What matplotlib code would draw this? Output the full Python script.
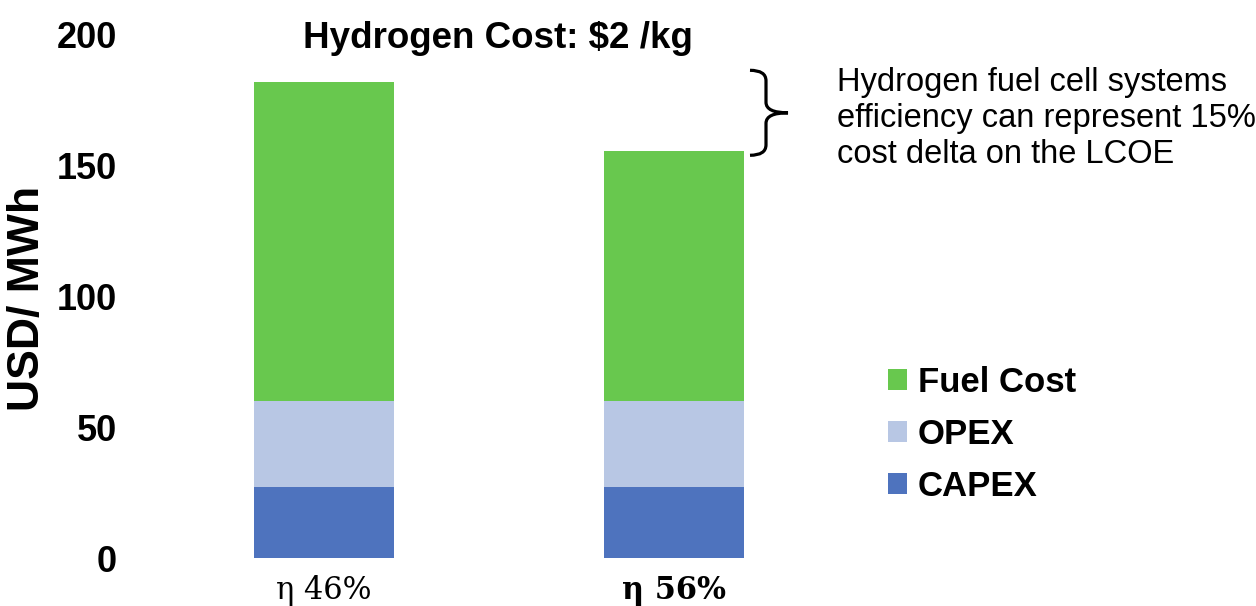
import matplotlib
matplotlib.use("Agg")
import matplotlib.pyplot as plt
import numpy as np
from matplotlib.path import Path
from matplotlib.patches import PathPatch

# values (USD / MWh)
cases = ["η 46%", "η 56%"]
capex = [27, 27]
opex = [33, 33]
fuel_cost = [122, 95.5]

series_names = ["CAPEX", "OPEX", "Fuel Cost"]
colors = ["#4E73BE", "#B8C7E4", "#68C84E"]

plt.rcParams["font.family"] = ["Liberation Sans", "DejaVu Sans"]

W, H = 1256, 606
fig = plt.figure(figsize=(W / 100, H / 100), dpi=100)

# axes placed so that y=0 sits at 558 px and y=200 at 35 px
ax = fig.add_axes([125 / W, (H - 558) / H, (1250 - 125) / W, (558 - 35) / H])

x = np.arange(len(cases))
bottom = np.zeros(len(cases))
bars = []
for name, vals, col in zip(series_names, [capex, opex, fuel_cost], colors):
    b = ax.bar(x, vals, 0.4, bottom=bottom, color=col, label=name, linewidth=0)
    bars.append(b)
    bottom += np.array(vals)
totals = bottom

ax.set_xlim((125 - 324) / 350, (1250 - 324) / 350)
ax.set_ylim(0, 200)
for s in ax.spines.values():
    s.set_visible(False)

ax.set_yticks([0, 50, 100, 150, 200])
ax.tick_params(axis="y", length=0, pad=6, labelsize=26)
for t in ax.get_yticklabels():
    t.set_fontweight("bold")

ax.set_xticks(x)
ax.set_xticklabels(cases, fontfamily="DejaVu Serif", fontsize=22)
ax.tick_params(axis="x", length=0, pad=12)
ax.get_xticklabels()[1].set_fontweight("bold")

fig.text(28 / W, 1 - 298 / H, "USD/ MWh", rotation=90, fontsize=32,
         fontweight="bold", ha="center", va="center")

# title over the bars
ax.text(0.496, 195.0, "Hydrogen Cost: $2 /kg", fontsize=26.5,
        fontweight="bold", ha="center", va="baseline")

# curly brace between the two bar tops
y_top = totals[0] + 4.5
y_bot = totals[1] - 1.5
y_mid = (y_top + y_bot) / 2
xl, xs, xt = (750 - 324) / 350, (766 - 324) / 350, (788 - 324) / 350
r = 4.0
verts = [(xl, y_top), (xs, y_top), (xs, y_top - r),
         (xs, y_mid + r), (xs, y_mid), (xt, y_mid),
         (xs, y_mid), (xs, y_mid - r),
         (xs, y_bot + r), (xs, y_bot), (xl, y_bot)]
codes = [Path.MOVETO, Path.CURVE3, Path.CURVE3,
         Path.LINETO, Path.CURVE3, Path.CURVE3,
         Path.CURVE3, Path.CURVE3,
         Path.LINETO, Path.CURVE3, Path.CURVE3]
ax.add_patch(PathPatch(Path(verts, codes), fill=False, lw=2.3,
                       edgecolor="black", clip_on=False))

fig.text(837 / W, 1 - 163 / H,
         "Hydrogen fuel cell systems\nefficiency can represent 15%\ncost delta on the LCOE",
         fontsize=23.5, ha="left", va="baseline", linespacing=1.2)

handles = [bars[2], bars[1], bars[0]]
labels = ["Fuel Cost", "OPEX", "CAPEX"]
ax.legend(handles, labels, loc="upper left",
          bbox_to_anchor=(888 / W, 1 - 366 / H), bbox_transform=fig.transFigure,
          frameon=False, prop={"size": 25, "weight": "bold"},
          handlelength=0.55, handleheight=0.55, handletextpad=0.3,
          labelspacing=0.54, borderpad=0, borderaxespad=0)

fig.savefig("out.png", dpi=100)
